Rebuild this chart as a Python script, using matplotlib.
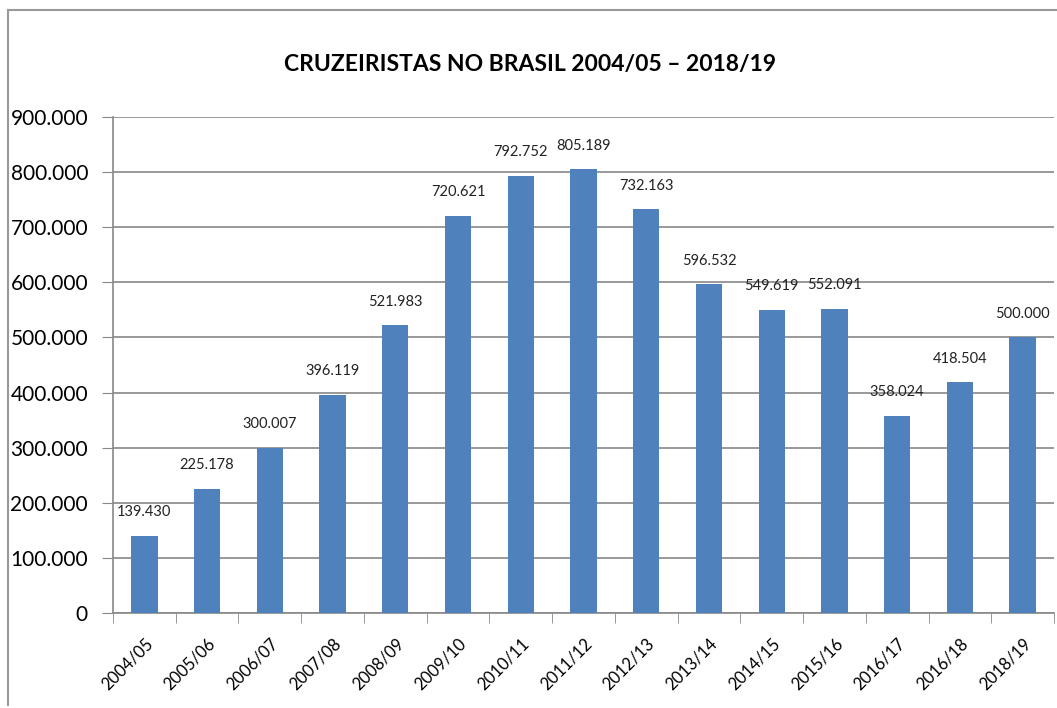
import numpy as np
import matplotlib.pyplot as plt
from matplotlib.ticker import FuncFormatter

plt.rcParams['font.family'] = ['Lato', 'DejaVu Sans']

# seasons and number of cruise passengers
temporadas = ['2004/05', '2005/06', '2006/07', '2007/08', '2008/09', '2009/10',
              '2010/11', '2011/12', '2012/13', '2013/14', '2014/15', '2015/16',
              '2016/17', '2016/18', '2018/19']
cruzeiristas = [139430, 225178, 300007, 396119, 521983, 720621, 792752, 805189,
                732163, 596532, 549619, 552091, 358024, 418504, 500000]

def br(v):
    # brazilian thousand separator
    return '{:,.0f}'.format(v).replace(',', '.')

fig = plt.figure(figsize=(10.57, 7.08), dpi=100)
ax = fig.add_axes([113/1057, 1 - 613/708, (1054-113)/1057, (613-117)/708])

x = np.arange(len(temporadas))
ax.bar(x, cruzeiristas, width=0.42, color='#4F81BD', zorder=3)

for xi, v in zip(x, cruzeiristas):
    ax.annotate(br(v), (xi, v), xytext=(0, 12), textcoords='offset points',
                ha='center', va='bottom', fontsize=10.5, color='#222222')

ax.set_xlim(-0.5, len(temporadas) - 0.5)
ax.set_ylim(0, 900000)
ax.set_yticks(np.arange(0, 900001, 100000))
ax.yaxis.set_major_formatter(FuncFormatter(lambda v, p: br(v)))
ax.grid(axis='y', color='#888888', linewidth=1.2, zorder=0)

ax.set_xticks(x)
ax.set_xticklabels(temporadas, rotation=45, ha='right', rotation_mode='anchor',
                   fontsize=12)
ax.set_xticks(np.arange(-0.5, len(temporadas)), minor=True)
ax.tick_params(axis='x', which='major', length=0, pad=16)
ax.tick_params(axis='x', which='minor', length=7, color='#888888')
ax.tick_params(axis='y', length=8, color='#888888', labelsize=15, pad=10)

for s in ['top', 'right']:
    ax.spines[s].set_visible(False)
for s in ['left', 'bottom']:
    ax.spines[s].set_color('#888888')
    ax.spines[s].set_linewidth(1.2)

fig.text(530/1057, 1 - 65/708, 'CRUZEIRISTAS NO BRASIL 2004/05 \u2013 2018/19',
         ha='center', va='center', fontsize=16.5, fontweight='bold')

# chart frame (left and top edges)
fig.add_artist(plt.Line2D([8/1057, 8/1057], [1 - 705/708, 1 - 10/708],
                          transform=fig.transFigure, color='#999999', lw=1.5))
fig.add_artist(plt.Line2D([8/1057, 1], [1 - 10/708, 1 - 10/708],
                          transform=fig.transFigure, color='#999999', lw=1.5))

fig.savefig('out.png', dpi=100)
